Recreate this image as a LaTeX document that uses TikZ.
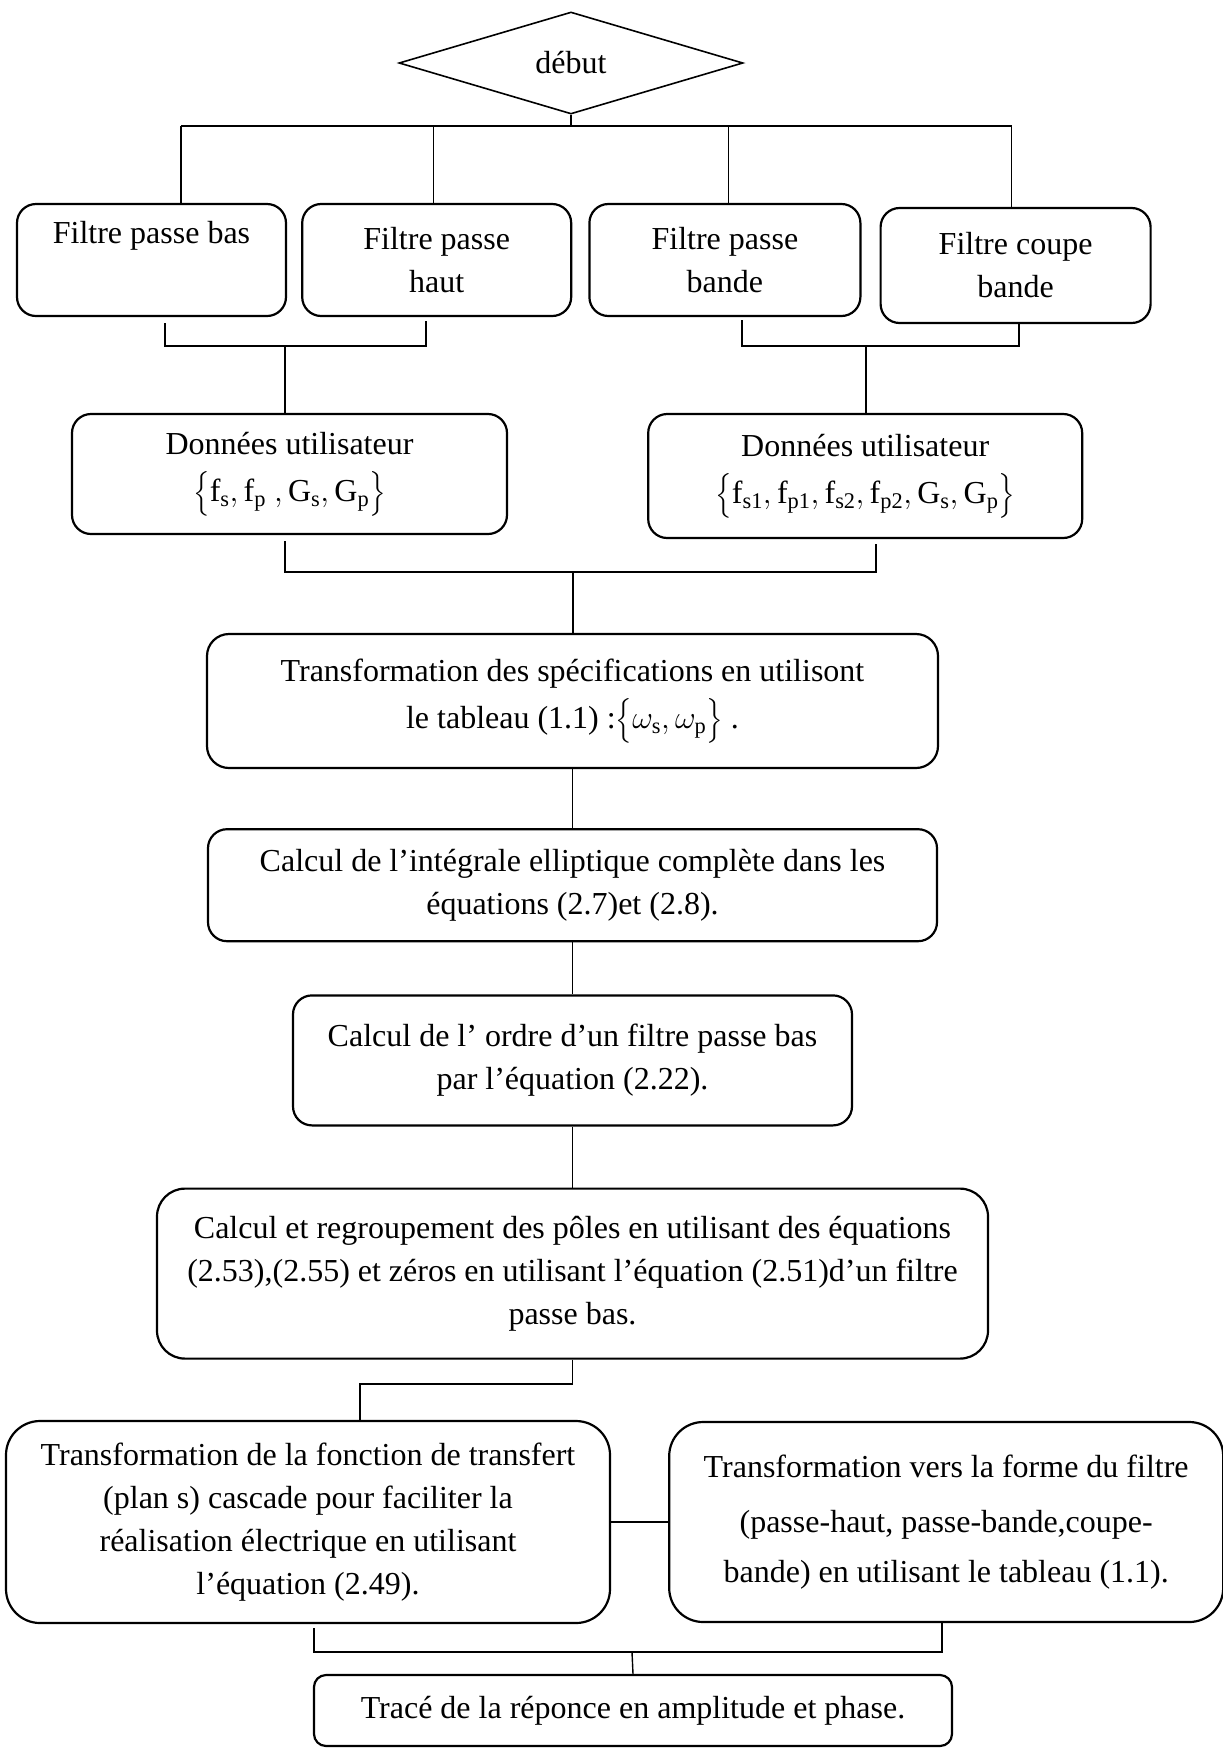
\documentclass[tikz,border=0pt]{standalone}
\usepackage{fix-cm}
\usepackage{amsmath}
\usepackage{fontspec}
\setmainfont{Liberation Serif}
\usepackage{tikz}
\usetikzlibrary{positioning,shapes.geometric,calc}

\begin{document}
\begin{tikzpicture}[
  x=1pt, y=1pt,
  font=\fontsize{32}{43}\selectfont,
  start/.style={draw, diamond, aspect=3.4, minimum width=344pt, minimum height=102pt,
    inner sep=0pt, line width=1.6pt},
  box/.style={draw, rounded corners=19pt, align=center, line width=2.2pt, inner sep=0pt},
  link/.style={line width=1.4pt},
  bar/.style={line width=1.9pt},
]
  \useasboundingbox (0,0) rectangle (1223,-1749);

  % --- start and the four filter types ---------------------------------
  \node[start] (debut) at (571,-63) {début};
  \node[box, minimum width=269pt, minimum height=112pt] (b1) at (151.5,-260) {Filtre passe bas\\ \strut};
  \node[box, minimum width=269pt, minimum height=112pt, right=14pt of b1] (b2) {Filtre passe\\ haut};
  \node[box, minimum width=271pt, minimum height=112pt, right=16pt of b2] (b3) {Filtre passe\\ bande};
  \node[box, minimum width=270pt, minimum height=115pt, right=18pt of b3, yshift=-5.5pt] (b4) {Filtre coupe\\ bande};

  \coordinate (fan) at (571,-126);
  \draw[link] (debut.south) -- (fan);
  \draw[bar] ([xshift=29.5pt]b1.north |- fan) -- ([xshift=-4pt]b4.north |- fan);
  \foreach \n/\dx in {b1/29.5,b2/-3.5,b3/3.5,b4/-4}
    \draw[link] ([xshift=\dx pt]\n.north |- fan) -- ([xshift=\dx pt]\n.north);

  % --- user data ---------------------------------------------------------
  \node[box, minimum width=435pt, minimum height=120pt] (d1) at (289.5,-474)
    {Données utilisateur\\[4pt] $\bigl\{\mathrm{f_s, f_p\ , G_s, G_p}\bigr\}$};
  \node[box, minimum width=434pt, minimum height=124pt, right=139pt of d1, yshift=-2pt] (d2)
    {Données utilisateur\\[4pt] $\bigl\{\mathrm{f_{s1}, f_{p1}, f_{s2}, f_{p2}, G_s, G_p}\bigr\}$};

  \coordinate (j1) at (285,-346);
  \coordinate (j1b) at (866,-346);
  \draw[bar] ([xshift=13.5pt,yshift=-6pt]b1.south) |- (j1) -| ([xshift=-10.5pt,yshift=-4pt]b2.south);
  \draw[bar] ([xshift=17.5pt,yshift=-3pt]b3.south) |- (j1b) -| ([xshift=3pt]b4.south);
  \draw[link] (j1) -- (j1 |- d1.north);
  \draw[link] (j1b) -- (j1b |- d2.north);

  % --- main column -----------------------------------------------------
  \node[box, minimum width=731pt, minimum height=134pt, rounded corners=22pt] (t) at (572.5,-701)
    {Transformation des spécifications en utilisont\\[4pt] le tableau (1.1) :$\bigl\{\omega_{\mathrm{s}}, \omega_{\mathrm{p}}\bigr\}$ .};
  \node[box, minimum width=729pt, minimum height=112pt, below=59pt of t] (c1)
    {Calcul de l’intégrale elliptique complète dans les\\ équations (2.7)et (2.8).};
  \node[box, minimum width=559pt, minimum height=130pt, below=52pt of c1] (c2)
    {Calcul de l’ ordre d’un filtre passe bas\\ par l’équation (2.22).};
  \node[box, minimum width=831pt, minimum height=170pt, below=61pt of c2, rounded corners=28pt] (c3)
    {Calcul et regroupement des pôles en utilisant des équations\\ (2.53),(2.55) et zéros en utilisant l’équation (2.51)d’un filtre\\ passe bas.};

  \coordinate (j2) at (573,-572);
  \draw[bar] ([xshift=-4.5pt,yshift=-6pt]d1.south) |- (j2) -| ([xshift=11pt,yshift=-5pt]d2.south);
  \draw[link] (j2) -- (j2 |- t.north);
  \foreach \a/\b in {t/c1,c1/c2,c2/c3}
    \draw[link] (\a.south) -- (\a.south |- \b.north);

  % --- transfer function and filter form ----------------------------------
  \node[box, minimum width=604pt, minimum height=202pt, rounded corners=34pt] (e1) at (308,-1522)
    {Transformation de la fonction de transfert\\ (plan s) cascade pour faciliter la\\ réalisation électrique en utilisant\\ l’équation (2.49).};
  \node[box, minimum width=554pt, minimum height=200pt, rounded corners=34pt, right=57pt of e1] (e2)
    {Transformation vers la forme du filtre\\[12pt] (passe-haut, passe-bande,coupe-\\[7pt] bande) en utilisant le tableau (1.1).};

  \coordinate (j3) at (360,-1384);
  \draw[bar] (c3.south) |- (j3) -- (j3 |- e1.north);
  \draw[bar] (e1.east) -- (e1.east -| e2.west);

  % --- response plot -----------------------------------------------------
  \node[box, minimum width=638pt, minimum height=71pt, rounded corners=12pt] (f) at (633,-1710.5)
    {Tracé de la réponce en amplitude et phase.};

  \coordinate (j4) at (632,-1652);
  \draw[bar] ([xshift=6pt,yshift=-4pt]e1.south) |- (j4) -| ([xshift=-4pt]e2.south);
  \draw[link] (j4) -- (f.north);
\end{tikzpicture}
\end{document}
